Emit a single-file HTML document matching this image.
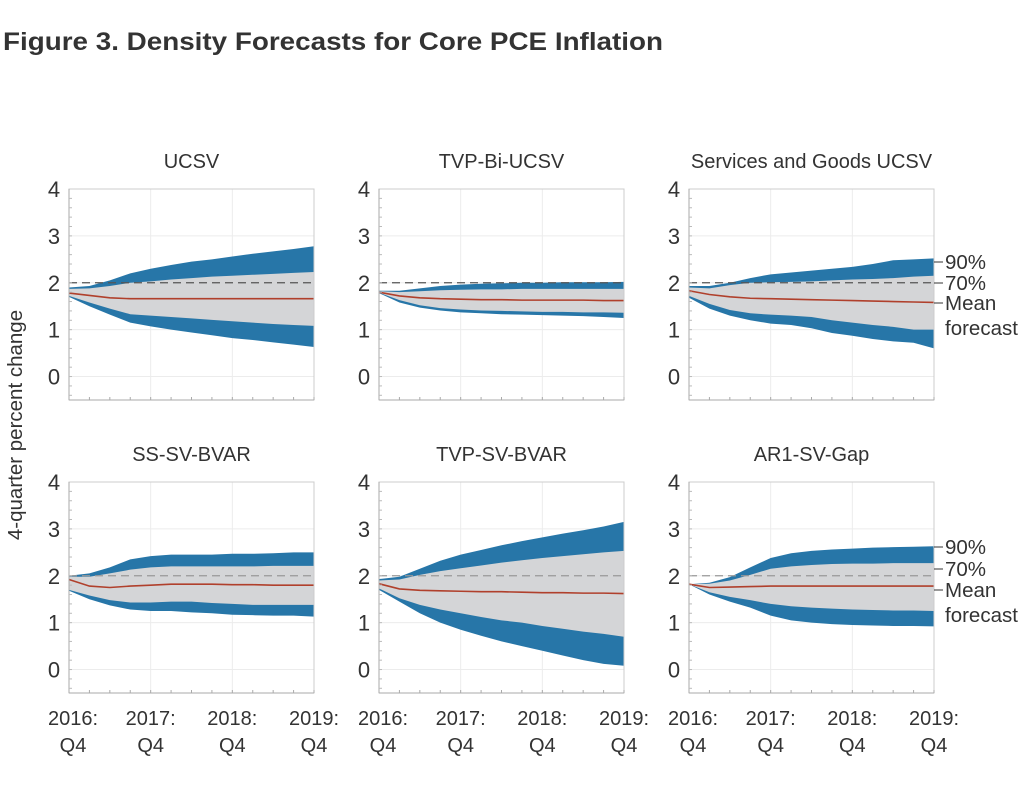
<!DOCTYPE html>
<html><head><meta charset="utf-8"><style>
html,body{margin:0;padding:0;background:#fff;}
svg{display:block;font-family:"Liberation Sans",sans-serif;}
</style></head><body>
<svg id="s" width="1024" height="792" xmlns="http://www.w3.org/2000/svg">
<rect width="1024" height="792" fill="#fff"/>
<text x="3" y="50" font-size="25" font-weight="bold" fill="#333" textLength="660" lengthAdjust="spacingAndGlyphs">Figure 3. Density Forecasts for Core PCE Inflation</text>
<text transform="translate(22,425) rotate(-90)" text-anchor="middle" font-size="20.5" fill="#333">4-quarter percent change</text>
</svg>
<script>
const S=document.getElementById('s');const NS='http://www.w3.org/2000/svg';
function el(t,a,txt){const e=document.createElementNS(NS,t);for(const k in a)e.setAttribute(k,a[k]);if(txt!==undefined)e.textContent=txt;S.appendChild(e);return e;}
const P=[
{t:"UCSV",c:0,r:0,
u9:[1.9,1.93,2.05,2.2,2.3,2.38,2.45,2.5,2.56,2.62,2.67,2.72,2.78],
u7:[1.87,1.88,1.93,2.0,2.03,2.07,2.1,2.13,2.15,2.17,2.19,2.21,2.23],
m:[1.78,1.73,1.68,1.66,1.66,1.66,1.66,1.66,1.66,1.66,1.66,1.66,1.66],
l7:[1.72,1.58,1.45,1.33,1.3,1.27,1.24,1.21,1.18,1.15,1.12,1.1,1.08],
l9:[1.7,1.5,1.32,1.15,1.07,1.0,0.94,0.88,0.82,0.78,0.73,0.68,0.63]},
{t:"TVP-Bi-UCSV",c:1,r:0,
u9:[1.83,1.83,1.88,1.93,1.96,1.98,1.99,2.0,2.0,2.01,2.01,2.01,2.02],
u7:[1.82,1.8,1.82,1.84,1.85,1.86,1.86,1.87,1.87,1.87,1.87,1.87,1.87],
m:[1.8,1.72,1.68,1.66,1.65,1.64,1.64,1.63,1.63,1.63,1.63,1.62,1.62],
l7:[1.79,1.63,1.52,1.46,1.43,1.41,1.4,1.39,1.38,1.38,1.37,1.37,1.36],
l9:[1.78,1.58,1.47,1.41,1.37,1.35,1.33,1.32,1.31,1.3,1.29,1.27,1.25]},
{t:"Services and Goods UCSV",c:2,r:0,ann:[262,283,303,328],
u9:[1.93,1.93,2.0,2.1,2.18,2.22,2.26,2.3,2.34,2.4,2.48,2.5,2.52],
u7:[1.9,1.88,1.95,2.0,2.01,2.02,2.03,2.05,2.07,2.08,2.1,2.13,2.15],
m:[1.83,1.75,1.7,1.67,1.66,1.65,1.64,1.63,1.62,1.61,1.6,1.59,1.58],
l7:[1.72,1.55,1.42,1.35,1.32,1.3,1.27,1.2,1.15,1.1,1.06,1.0,1.0],
l9:[1.68,1.45,1.3,1.2,1.13,1.1,1.03,0.93,0.87,0.8,0.75,0.72,0.6]},
{t:"SS-SV-BVAR",c:0,r:1,
u9:[2.0,2.05,2.18,2.35,2.42,2.45,2.45,2.45,2.47,2.47,2.48,2.5,2.5],
u7:[1.98,1.98,2.05,2.13,2.18,2.2,2.2,2.2,2.2,2.2,2.21,2.21,2.21],
m:[1.92,1.78,1.75,1.78,1.8,1.82,1.82,1.82,1.81,1.81,1.8,1.8,1.8],
l7:[1.7,1.58,1.48,1.43,1.43,1.45,1.45,1.42,1.4,1.38,1.38,1.38,1.38],
l9:[1.68,1.5,1.37,1.28,1.25,1.25,1.22,1.2,1.17,1.16,1.15,1.15,1.13]},
{t:"TVP-SV-BVAR",c:1,r:1,
u9:[1.93,1.98,2.15,2.32,2.45,2.55,2.65,2.74,2.82,2.9,2.97,3.05,3.15],
u7:[1.9,1.92,2.02,2.1,2.16,2.22,2.28,2.33,2.38,2.42,2.46,2.5,2.53],
m:[1.83,1.72,1.69,1.68,1.67,1.66,1.66,1.65,1.64,1.64,1.63,1.63,1.62],
l7:[1.73,1.52,1.38,1.28,1.2,1.12,1.05,1.0,0.93,0.87,0.81,0.76,0.7],
l9:[1.7,1.45,1.2,1.0,0.85,0.72,0.6,0.5,0.4,0.3,0.2,0.12,0.08]},
{t:"AR1-SV-Gap",c:2,r:1,ann:[547,569,590,615],
u9:[1.82,1.85,1.97,2.18,2.38,2.48,2.53,2.56,2.58,2.6,2.61,2.62,2.63],
u7:[1.82,1.83,1.9,2.02,2.15,2.2,2.23,2.25,2.26,2.26,2.27,2.27,2.27],
m:[1.82,1.75,1.76,1.77,1.78,1.78,1.78,1.78,1.78,1.78,1.78,1.78,1.78],
l7:[1.82,1.65,1.55,1.48,1.4,1.35,1.32,1.3,1.28,1.27,1.26,1.26,1.25],
l9:[1.82,1.6,1.45,1.32,1.15,1.05,1.0,0.97,0.95,0.94,0.93,0.93,0.92]}];
const X0=[69,379,689],W=245,TOP=[189,482],H=211;
P.forEach(p=>{
 const x0=X0[p.c],top=TOP[p.r],bot=top+H;
 const X=i=>x0+i*W/12, Y=v=>bot-(v+0.5)*H/4.5;
 el('text',{x:x0+W/2,y:top-21,'text-anchor':'middle','font-size':20,fill:'#333'},p.t);
 for(let v=0;v<=4;v++){el('line',{x1:x0,x2:x0+W,y1:Y(v),y2:Y(v),stroke:'#ececec','stroke-width':1});
  el('text',{x:x0-15,y:Y(v)+8,'text-anchor':'middle','font-size':22,fill:'#333'},v);}
 [4,8].forEach(i=>el('line',{x1:X(i),x2:X(i),y1:top,y2:bot,stroke:'#ececec'}));
 const poly=(a,b,f)=>{let pts=a.map((v,i)=>X(i)+','+Y(v));pts=pts.concat(b.map((v,i)=>X(i)+','+Y(v)).reverse());el('polygon',{points:pts.join(' '),fill:f});};
 poly(p.u9,p.l9,'#2776a8');poly(p.u7,p.l7,'#d4d5d7');
 el('line',{x1:x0,x2:x0+W,y1:Y(2),y2:Y(2),stroke:p.r?'#999':'#555','stroke-width':1.3,'stroke-dasharray':'8,5'});
 el('polyline',{points:p.m.map((v,i)=>X(i)+','+Y(v)).join(' '),fill:'none',stroke:'#b0402c','stroke-width':1.6});
 el('rect',{x:x0,y:top,width:W,height:H,fill:'none',stroke:'#ccc','stroke-width':1});
 el('line',{x1:x0,x2:x0,y1:top,y2:bot,stroke:'#aaa'});el('line',{x1:x0,x2:x0+W,y1:bot,y2:bot,stroke:'#aaa'});
 for(let i=0;i<=12;i++)el('line',{x1:X(i),x2:X(i),y1:bot,y2:bot-3,stroke:'#aaa'});
 for(let v=-0.4;v<4;v+=0.2)el('line',{x1:x0,x2:x0+3,y1:Y(v),y2:Y(v),stroke:'#bbb'});
 if(p.r==1){["2016:","2017:","2018:","2019:"].forEach((t,k)=>{const cx=X(k*4)+(k==0?4:0);
  el('text',{x:cx,y:725,'text-anchor':'middle','font-size':20,fill:'#333'},t);
  el('text',{x:cx,y:752,'text-anchor':'middle','font-size':20,fill:'#333'},'Q4');});}
 if(p.ann){const e=x0+W;const ty=p.ann;
  [0,1,2].forEach(k=>el('line',{x1:e,x2:e+9,y1:ty[k],y2:ty[k],stroke:'#333'}));
  ['90%','70%','Mean','forecast'].forEach((t,k)=>el('text',{x:945,y:ty[k]+7,'font-size':20.5,fill:'#333'},t));}
});
</script>
</body></html>
